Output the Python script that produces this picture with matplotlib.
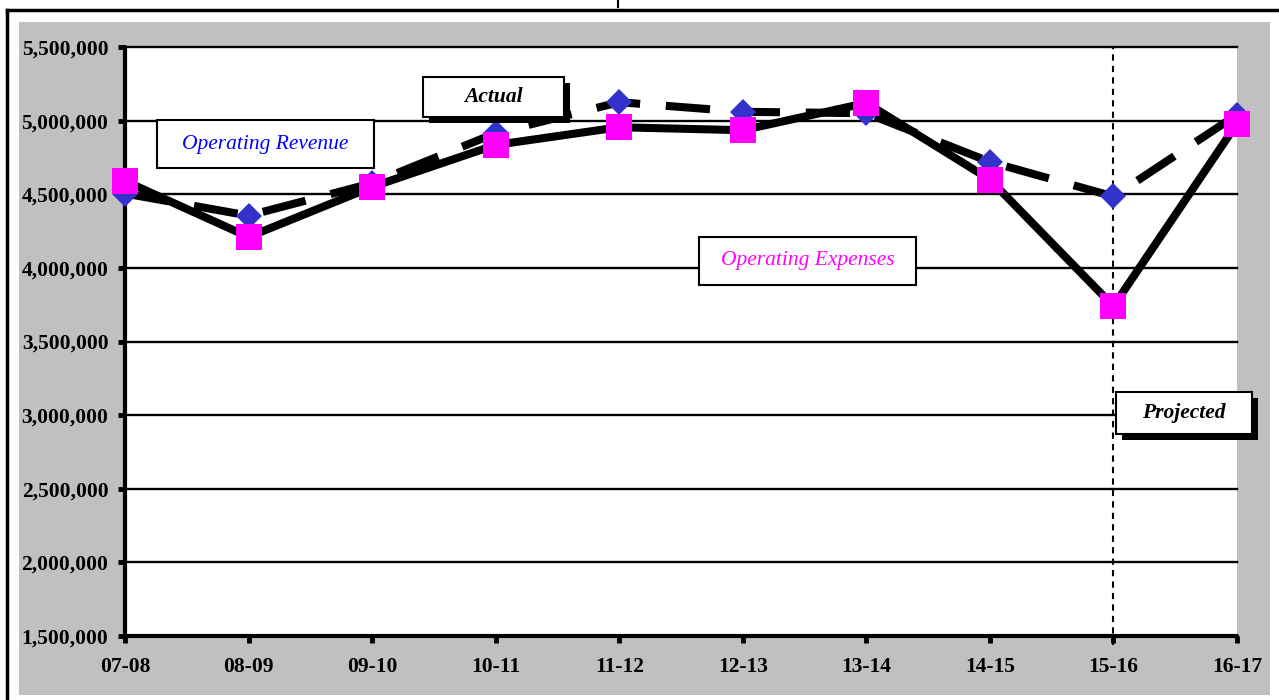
import matplotlib
matplotlib.use("Agg")
import matplotlib.pyplot as plt
from matplotlib.patches import Rectangle
from matplotlib.lines import Line2D
from matplotlib.ticker import FuncFormatter

# fiscal years and yearly totals
years = ["07-08", "08-09", "09-10", "10-11", "11-12", "12-13", "13-14", "14-15", "15-16", "16-17"]
revenue = [4505000, 4355000, 4575000, 4915000, 5125000, 5060000, 5050000, 4720000, 4485000, 5040000]
expenses = [4590000, 4210000, 4550000, 4835000, 4955000, 4935000, 5120000, 4600000, 3740000, 4980000]
y_ticks = [1500000, 2000000, 2500000, 3000000, 3500000, 4000000, 4500000, 5000000, 5500000]
projected_from = "15-16"

W, H = 1279, 700
serif = "Liberation Serif"


def fx(px):
    return px / W


def fy(py):
    return 1 - py / H


fig = plt.figure(figsize=(W / 100, H / 100), dpi=100)
fig.patch.set_facecolor("white")

# page frame and grey chart area
fig.add_artist(Line2D([fx(7), fx(1279)], [fy(10), fy(10)], color="black", lw=2.5))
fig.add_artist(Line2D([fx(7), fx(7)], [fy(10), fy(700)], color="black", lw=2.5))
fig.add_artist(Line2D([fx(618), fx(618)], [fy(0), fy(7)], color="black", lw=1.5))
fig.add_artist(Rectangle((fx(19), fy(695)), fx(1270) - fx(19), fy(22) - fy(695),
                         facecolor="#c0c0c0", edgecolor="none", zorder=0))

ax = fig.add_axes([fx(125), fy(636), fx(1237) - fx(125), fy(47) - fy(636)])
ax.set_facecolor("white")

x = list(range(len(years)))
ax.set_xlim(0, len(years) - 1)
ax.set_ylim(y_ticks[0], y_ticks[-1])

for v in y_ticks[1:]:
    ax.axhline(v, color="black", lw=1.7, zorder=1, clip_on=False)

# projection divider
px = years.index(projected_from)
ax.axvline(px, ymin=-0.016, ymax=1, color="black", lw=1.5, dashes=(3, 2.5),
           clip_on=False, zorder=2)

ax.plot(x, revenue, color="black", lw=5.8, dashes=(5.5, 3.2), zorder=3,
        dash_capstyle="butt", clip_on=False)
ax.plot(x, expenses, color="black", lw=5.8, zorder=3, clip_on=False)
ax.plot(x, revenue, ls="none", marker="D", ms=13.5, mfc="#3333cc", mew=0,
        zorder=4, clip_on=False)
ax.plot(x, expenses, ls="none", marker="s", ms=19, mfc="#ff00ff", mew=0,
        zorder=5, clip_on=False)

for side in ("top", "right"):
    ax.spines[side].set_visible(False)
for side in ("left", "bottom"):
    ax.spines[side].set_linewidth(3)
    ax.spines[side].set_capstyle("round")

ax.set_xticks(x)
ax.set_xticklabels(years)
ax.set_yticks(y_ticks)
ax.yaxis.set_major_formatter(FuncFormatter(lambda v, p: f"{int(v):,}"))
ax.tick_params(axis="both", direction="out", length=5, width=3.5, color="black")
ax.tick_params(axis="x", pad=10)
ax.tick_params(axis="y", pad=7)
for lab in ax.get_xticklabels() + ax.get_yticklabels():
    lab.set_fontfamily(serif)
    lab.set_fontweight("bold")
    lab.set_fontsize(15.5)


def label_box(x0, y0, x1, y1, text, color, bold=False, shadow=False):
    if shadow:
        fig.add_artist(Rectangle((fx(x0 + 6), fy(y1 + 6)), fx(x1) - fx(x0), fy(y0) - fy(y1),
                                 facecolor="black", edgecolor="none", zorder=6))
    fig.add_artist(Rectangle((fx(x0), fy(y1)), fx(x1) - fx(x0), fy(y0) - fy(y1),
                             facecolor="white", edgecolor="black", lw=1.5, zorder=7))
    fig.text(fx((x0 + x1) / 2), fy((y0 + y1) / 2), text, color=color,
             fontfamily=serif, fontstyle="italic",
             fontweight="bold" if bold else "normal",
             fontsize=15.5, ha="center", va="center", zorder=8)


label_box(423, 77, 564, 117, "Actual", "black", bold=True, shadow=True)
label_box(157, 120, 374, 168, "Operating Revenue", "#0000ff")
label_box(699, 237, 916, 285, "Operating Expenses", "#ff00ff")
label_box(1116, 392, 1252, 434, "Projected", "black", bold=True, shadow=True)

fig.savefig("out.png", dpi=100)
